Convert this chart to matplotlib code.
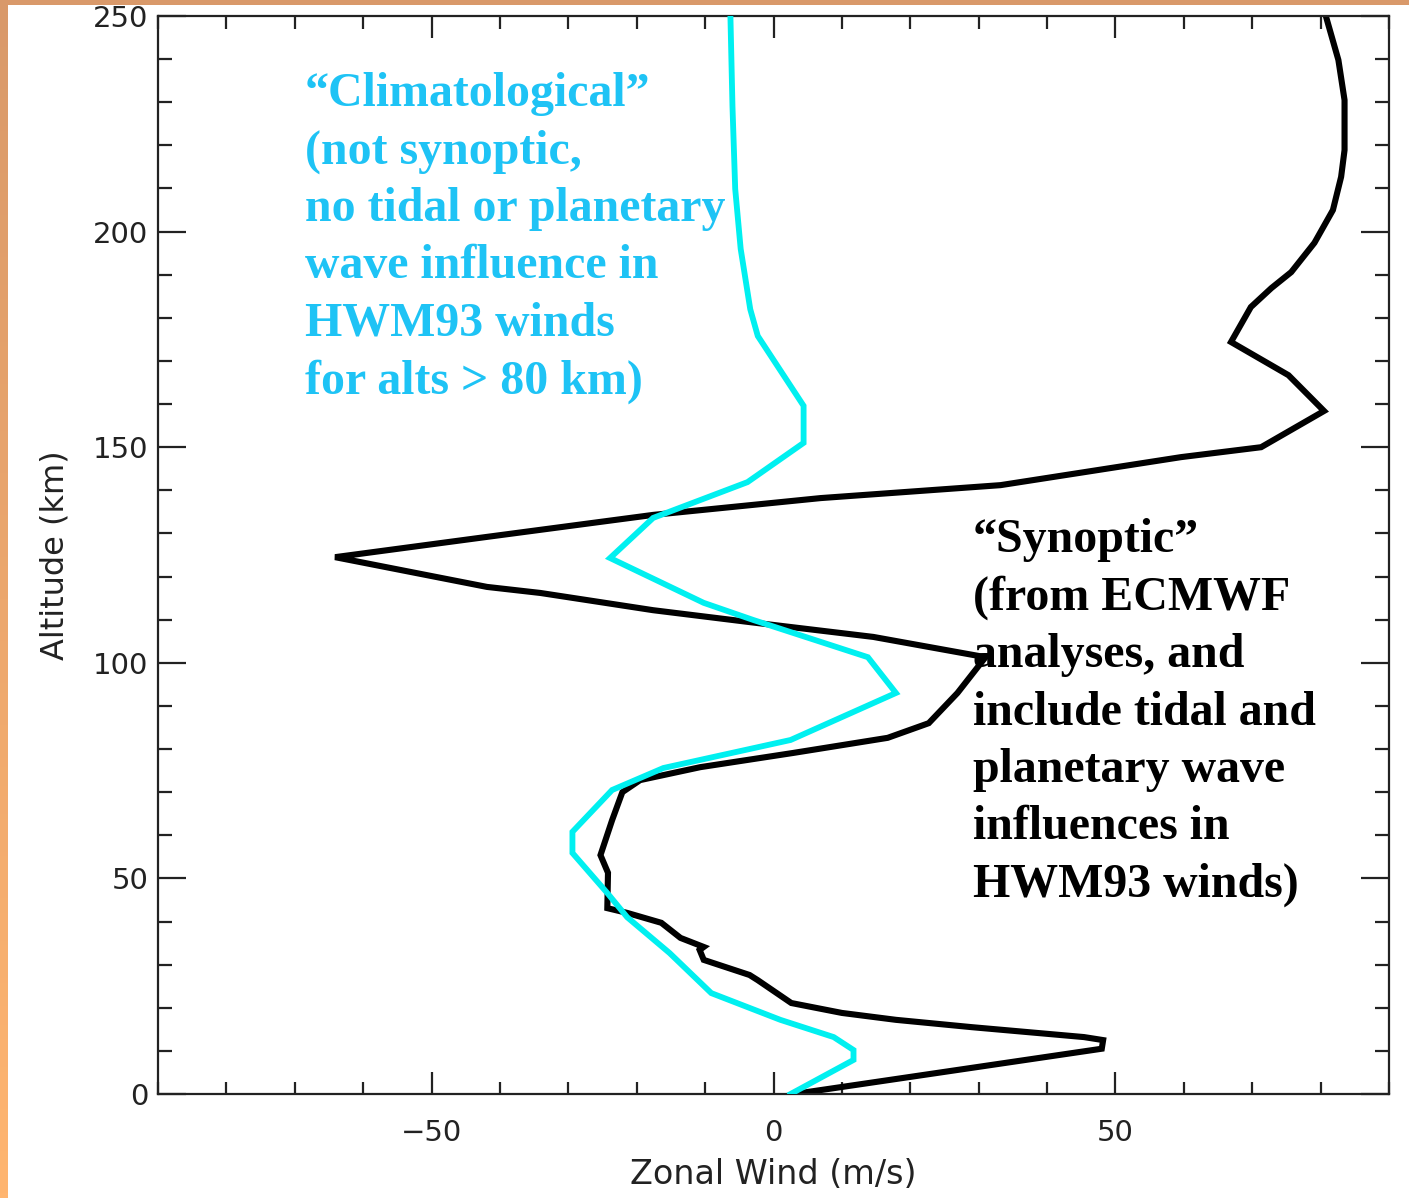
import numpy as np
import matplotlib
matplotlib.use("Agg")
import matplotlib.pyplot as plt
from matplotlib.ticker import MultipleLocator

# Synoptic (ECMWF + HWM93) zonal wind profile
synoptic_wind = [3, 48, 48.2, 45.4, 29, 17.9, 10, 2.6, -2.3, -3.5, -10.2, -10.8, -10.2,
                 -13.6, -16.4, -21.4, -24.3, -24.2, -25.3, -23.6, -22.1, -19.5, -10.7,
                 2.9, 16.7, 22.7, 26.9, 31, 14.6, -3.8, -17.6, -34.1, -41.9, -64.1,
                 -41.9, -17.6, 6.9, 33.2, 59.6, 71.3, 80.5, 75.3, 66.9, 69.8, 72.8,
                 75.7, 79.1, 81.8, 83, 83.5, 83.5, 82.6, 80.8]
synoptic_alt = [0, 10.5, 12.5, 13.2, 15.5, 17.2, 18.8, 21.1, 26.4, 27.6, 31.1, 33.4, 34.1,
                36.2, 39.7, 42, 43.1, 51.3, 55.4, 63.5, 70, 72.8, 75.8,
                79.1, 82.6, 86, 93, 101.3, 106, 109.5, 112.2, 116.2, 117.6, 124.5,
                129.2, 134.3, 138.2, 141.2, 147.7, 150, 158.4, 166.7, 174.4, 182.5, 186.9,
                190.6, 197.4, 205, 212.7, 218.9, 230.5, 239.8, 249.8]

# Climatological HWM93 profile
clim_wind = [2.5, 11.7, 11.7, 8.8, 1, -9.1, -15.2, -21.4, -24.3, -29.4, -29.4, -23.6,
             -16.1, 2.5, 17.9, 13.8, -2.9, -10.2, -23.9, -17.6, -3.8, 4.4, 4.4, -2.3,
             -3.4, -4.8, -5.6, -6, -6.3]
clim_alt = [0, 7.9, 10.2, 13.2, 17.2, 23.4, 32.7, 41, 46.6, 55.9, 60.8, 70.5,
            75.6, 82.1, 93, 101.3, 109.9, 113.9, 124.3, 133.6, 141.9, 151, 159.6, 175.8,
            182, 196, 209.9, 229.1, 250]

clim_label = ["\u201cClimatological\u201d", "(not synoptic,", "no tidal or planetary",
              "wave influence in", "HWM93 winds", "for alts > 80 km)"]
syn_label = ["\u201cSynoptic\u201d", "(from ECMWF", "analyses, and", "include tidal and",
             "planetary wave", "influences in", "HWM93 winds)"]

W, H = 1409, 1198
fig = plt.figure(figsize=(W / 100, H / 100), dpi=100)
fig.patch.set_facecolor("white")

# orange frame strips on the left and top
strip = fig.add_axes([0, 0, 8 / W, 1])
grad = np.linspace(0, 1, 256).reshape(-1, 1)
cmap = matplotlib.colors.LinearSegmentedColormap.from_list("edge", ["#D9996A", "#FFB570"])
strip.imshow(grad, aspect="auto", cmap=cmap, extent=[0, 1, 0, 1], origin="upper")
strip.axis("off")
fig.add_artist(plt.Rectangle((0, 1 - 5 / H), 1, 5 / H, transform=fig.transFigure,
                             color="#D9996A", lw=0))

ax = fig.add_axes([158 / W, 1 - 1094 / H, 1231 / W, 1078 / H])
ax.plot(clim_wind, clim_alt, color="#00F0F0", lw=4.2, solid_joinstyle="miter", zorder=3)
ax.plot(synoptic_wind, synoptic_alt, color="black", lw=4.4, solid_joinstyle="miter", zorder=2)

ax.set_xlim(-90, 90)
ax.set_ylim(0, 250)
ax.xaxis.set_major_locator(MultipleLocator(50))
ax.xaxis.set_minor_locator(MultipleLocator(10))
ax.yaxis.set_major_locator(MultipleLocator(50))
ax.yaxis.set_minor_locator(MultipleLocator(10))
ax.tick_params(which="both", direction="in", top=True, right=True, colors="#222222",
               width=1.6, labelsize=21)
ax.tick_params(axis="x", which="major", length=16, pad=18)
ax.tick_params(axis="x", which="minor", length=9)
ax.tick_params(axis="y", which="major", length=20, pad=7)
ax.tick_params(axis="y", which="minor", length=10)
for s in ax.spines.values():
    s.set_linewidth(1.6)
    s.set_color("#222222")

ax.set_xlabel("Zonal Wind (m/s)", fontsize=24, color="#222222", labelpad=8)
ax.set_ylabel("Altitude (km)", fontsize=23, color="#222222", labelpad=16)

serif = ["Liberation Serif", "DejaVu Serif"]
ax.text(305 / W, 1 - 72 / H, "\n".join(clim_label), transform=fig.transFigure,
        ha="left", va="top", fontsize=34.5, fontweight="bold", family=serif,
        color="#1EC3F5", linespacing=1.39, zorder=5)
ax.text(973 / W, 1 - 518 / H, "\n".join(syn_label), transform=fig.transFigure,
        ha="left", va="top", fontsize=34.5, fontweight="bold", family=serif,
        color="black", linespacing=1.39, zorder=5)

fig.savefig("out.png", dpi=100)
